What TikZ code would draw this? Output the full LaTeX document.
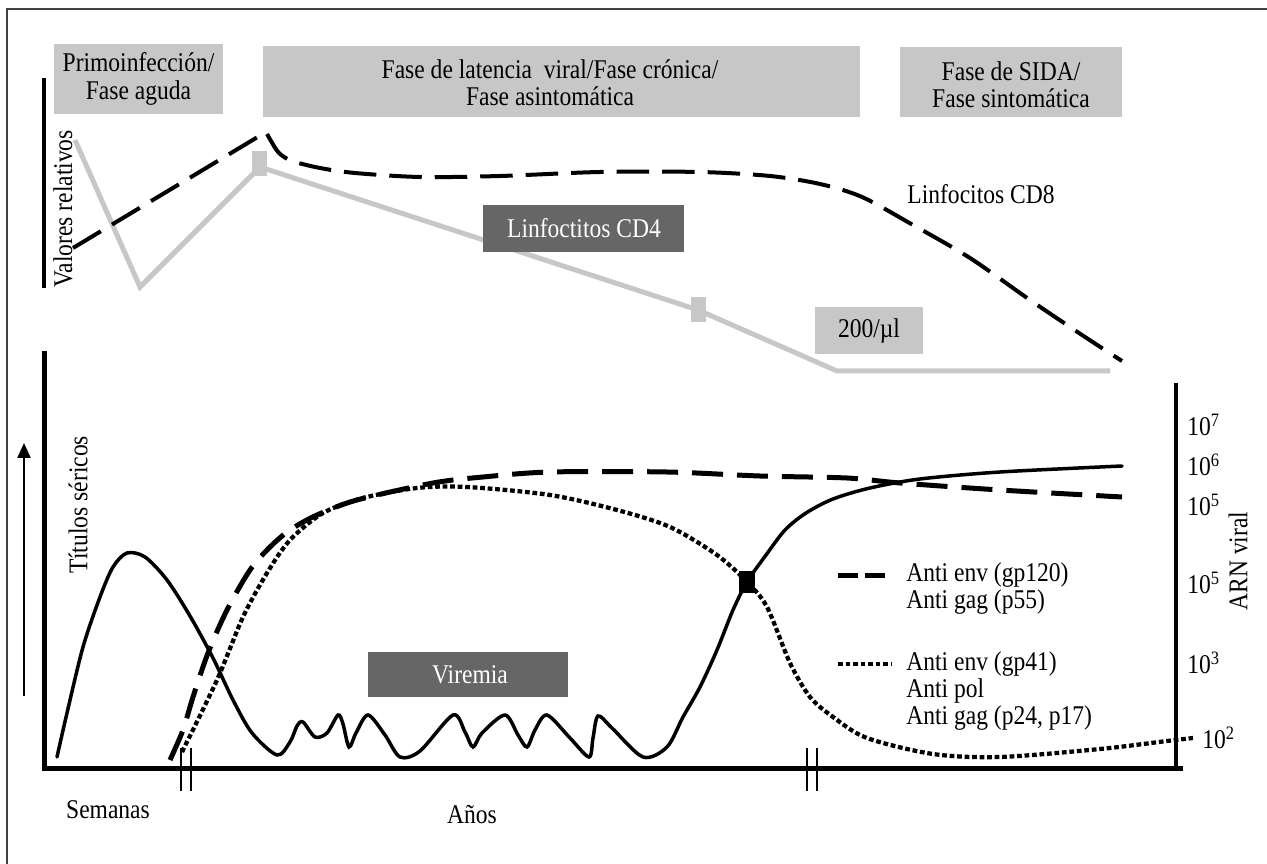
\documentclass[tikz,border=0pt]{standalone}
\usepackage{fontspec}
\setmainfont{Liberation Serif}[FakeStretch=0.87]
\usetikzlibrary{arrows.meta}
\newcommand\chartfont{\fontsize{15.4}{15.6}\selectfont}
\def\axisbreak(#1,#2){\draw[line width=0.3mm] (#1-5,#2) -- (#1-5,#2+43) (#1+5,#2) -- (#1+5,#2+43);}

\tikzset{
  axisline/.style={line width=1mm, line cap=butt},
  cdfour/.style={line width=1mm, color=black!22},
  cdeight/.style={line width=0.8mm, dash pattern=on 6.5mm off 2.6mm},
  viralline/.style={line width=0.7mm, line cap=round},
  gpdash/.style={line width=1mm, dash pattern=on 6.2mm off 2.8mm},
  gpdots/.style={line width=0.85mm, dash pattern=on 0.95mm off 0.55mm},
  darklabel/.style={text=white}
}

\begin{document}
\begin{tikzpicture}[x=0.02cm, y=-0.02cm, font=\chartfont]
	\useasboundingbox (0,0) rectangle (1267,864);
	%%%%% MARCO %%%%%
	\draw[line width=0.25mm, color=black!75] (7,864) -- (7,9) -- (1267,9);
	
	%%%%% FASES %%%%%
	\fill[color=black!22] (54,44) rectangle (223,114);
	\node[align=center] (primo) at (138.5,79) {Primoinfección/\\Fase aguda};
	\fill[color=black!22] (263,46) rectangle (860,117);
	\node[align=center] (latencia) at (550,83) {Fase de latencia~ viral/Fase crónica/\\Fase asintomática};
	\fill[color=black!22] (900,47) rectangle (1122,117);
	\node[align=center] (sida) at (1011,85) {Fase de SIDA/\\Fase sintomática};
	
	%%%%% LINFOCITOS %%%%%
	\draw[axisline, line width=0.8mm] (44,78) -- (44,288);
	\node[rotate=90] (valores) at (63,209) {Valores relativos};
	
	\draw[cdfour] (75,140) -- (140,287) -- (260,167) -- (698,310) -- (837,371) -- (1110,371);
	\fill[color=black!22] (252,151) rectangle (267,176);
	\fill[color=black!22] (691,297) rectangle (706,322);
	
	\draw[cdeight] (73,248) -- plot[smooth, tension=0.5] coordinates {(266,132) (271,141) (279,153) (292,161) (320,168) (355,173) (420,177) (500,176) (600,172) (700,172) (770,176) (820,184) (862,197) (913,225) (970,258) (1030,300) (1085,337) (1122,361)};
	
	\node (cdocho) at (981,194) {Linfocitos CD8};
	\fill[color=black!60] (483,205) rectangle (684,252);
	\node[darklabel] (cdcuatro) at (584,228.5) {Linfoctitos CD4};
	\fill[color=black!22] (815,307) rectangle (923,354);
	\node (doscientos) at (869,330.5) {200/µl};
	
	%%%%% TITULOS %%%%%
	\draw[axisline] (44,351) -- (44,768) -- (1183,768);
	\draw[axisline, line width=0.9mm] (1176,383) -- (1176,768);
	\draw[line width=0.5mm, -{Triangle[length=3mm, width=2.6mm]}] (24,696) -- (24,443);
	\node[rotate=90] (titulos) at (78,505) {Títulos séricos};
	\node (semanas) at (108,810) {Semanas};
	\node (anos) at (472,815) {Años};
	\axisbreak(186,748)
	\axisbreak(812,748)
	
	\fill[color=black!60] (368,652) rectangle (568,697);
	\node[darklabel] (viremia) at (470,674.5) {Viremia};
	
	% viremia
	\draw[viralline] plot[smooth, tension=0.5] coordinates {(57,757) (67,713) (83,647) (100,597) (113,567) (127,553) (145,557) (167,580) (190,616) (213,658) (233,700) (252,733) (277,755) (290,742) (297,726) (303,722) (315,737) (327,733) (338,715) (343,724) (349,747) (356,733) (368,715) (385,735) (400,757) (420,751) (453,715) (465,732) (473,747) (482,733) (505,715) (518,735) (527,747) (535,730) (547,715) (570,738) (589,757) (593,738) (598,716) (612,728) (643,757) (667,747) (683,717) (700,687) (717,650) (733,610) (747,582) (766,555) (785,530) (806,513) (833,499) (870,488) (920,479) (1000,472) (1122,466)};
	
	% anti env gp120 / gag p55
	\draw[gpdash] plot[smooth, tension=0.5] coordinates {(170,760) (183,730) (193,697) (208,653) (227,610) (250,570) (270,547) (290,530) (317,515) (357,500) (433,483) (483,477) (550,472) (667,472) (760,476) (847,478) (900,483) (1000,490) (1122,497)};
	
	% anti env gp41 / pol / gag p24 p17
	\draw[gpdots] plot[smooth, tension=0.5] coordinates {(182,752) (217,680) (243,617) (267,573) (290,540) (323,513) (363,498) (417,488) (467,487) (550,495) (617,510) (670,527) (717,555) (747,582) (767,607) (790,663) (810,697) (833,717) (867,738) (933,754) (1000,757) (1100,749) (1167,741) (1193,738)};
	
	\fill (739,571) rectangle (755,593);
	
	%%%%% LEYENDA %%%%%
	\draw[gpdash, dash pattern=on 4mm off 1.4mm] (838,575) -- (885,575);
	\node[anchor=west, inner sep=0pt] (gpcientoveinte) at (906,575) {Anti env (gp120)};
	\node[anchor=west, inner sep=0pt] (pcincuenta) at (906,602) {Anti gag (p55)};
	\draw[gpdots] (838,664) -- (892,664);
	\node[anchor=west, inner sep=0pt] (gpcuarenta) at (906,664) {Anti env (gp41)};
	\node[anchor=west, inner sep=0pt] (antipol) at (906,691) {Anti pol};
	\node[anchor=west, inner sep=0pt] (pveinte) at (906,718) {Anti gag (p24, p17)};
	
	%%%%% ARN VIRAL %%%%%
	\node[anchor=west, inner sep=0pt] (siete) at (1187,425) {10\textsuperscript{7}};
	\node[anchor=west, inner sep=0pt] (seis) at (1187,465) {10\textsuperscript{6}};
	\node[anchor=west, inner sep=0pt] (cinco) at (1187,505) {10\textsuperscript{5}};
	\node[anchor=west, inner sep=0pt] (cincob) at (1187,583) {10\textsuperscript{5}};
	\node[anchor=west, inner sep=0pt] (tres) at (1187,663) {10\textsuperscript{3}};
	\node[anchor=west, inner sep=0pt] (dos) at (1202,738) {10\textsuperscript{2}};
	\node[rotate=90] (arn) at (1238,561) {ARN viral};
\end{tikzpicture}
\end{document}
